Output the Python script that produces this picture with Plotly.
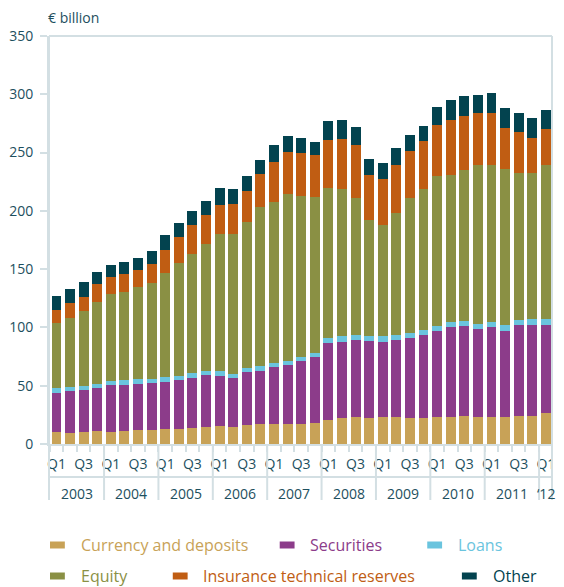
import plotly.graph_objects as go

# ---------------- data ----------------
years = [2003, 2004, 2005, 2006, 2007, 2008, 2009, 2010, 2011, 2012]
quarters = ["Q1", "Q2", "Q3", "Q4"]
quarter_labels = ["Q1", "", "Q3", ""]
year_labels = ["2003", "2004", "2005", "2006", "2007", "2008", "2009", "2010", "2011", "\u201812"]

currency = [10.3, 9.4, 10.3, 11.1, 10.3, 11.1, 12.0, 12.0, 12.9, 12.9, 13.7, 14.6,
            15.4, 14.6, 16.3, 17.1, 17.1, 17.1, 17.1, 18.0, 20.6, 22.3, 23.1, 22.3,
            23.1, 23.1, 22.3, 22.3, 23.1, 23.1, 24.0, 23.1, 23.1, 23.1, 24.0, 24.0, 26.6]
securities = [33.4, 36.0, 36.0, 36.9, 40.3, 39.5, 39.4, 40.3, 40.2, 42.0, 42.9, 44.5,
              42.9, 42.0, 45.4, 45.5, 48.9, 50.6, 54.0, 56.6, 66.0, 65.1, 66.0, 66.0,
              64.3, 66.0, 68.6, 71.1, 73.8, 77.2, 77.1, 75.5, 77.2, 73.8, 78.0, 78.0, 75.4]
loans = [4.3, 3.5, 3.4, 3.4, 3.4, 4.3, 4.3, 3.4, 4.3, 3.4, 4.3, 3.5,
         4.3, 3.4, 3.4, 4.3, 3.4, 3.4, 3.5, 3.4, 4.3, 5.2, 4.3, 4.3,
         5.2, 4.3, 4.2, 4.3, 4.2, 4.3, 4.3, 4.3, 4.3, 5.1, 4.3, 5.1, 5.1]
equity = [55.7, 59.1, 64.3, 70.3, 74.6, 75.4, 78.9, 82.3, 89.2, 96.8, 102.0, 108.8,
          117.4, 120.0, 125.2, 136.2, 138.0, 143.2, 138.0, 133.7, 128.5, 126.0, 117.5, 99.4,
          95.1, 104.6, 115.8, 120.9, 128.6, 126.0, 129.5, 136.2, 134.5, 133.7, 126.0, 125.2, 132.0]
insurance = [11.2, 12.9, 12.0, 15.4, 14.5, 15.4, 14.5, 16.3, 19.7, 22.3, 24.8, 24.9,
             24.9, 25.7, 26.6, 28.3, 34.3, 36.0, 36.8, 36.0, 41.2, 42.8, 45.4, 38.6,
             39.4, 41.1, 40.2, 41.1, 43.7, 47.1, 46.2, 44.6, 44.6, 35.2, 35.1, 30.0, 30.9]
other = [12.0, 12.0, 12.9, 10.3, 10.3, 10.3, 10.3, 11.1, 12.8, 12.0, 12.0, 12.0,
         14.5, 12.9, 12.8, 12.0, 14.6, 13.7, 12.9, 11.2, 16.3, 16.3, 15.4, 13.7,
         13.8, 14.6, 13.8, 12.9, 15.5, 17.2, 17.2, 15.4, 17.2, 17.1, 16.3, 17.1, 16.3]

series_names = ["Currency and deposits", "Securities", "Loans",
                "Equity", "Insurance technical reserves", "Other"]
series_values = [currency, securities, loans, equity, insurance, other]
colors = ["#c8a257", "#8c3c8a", "#6ac4de", "#8a9044", "#c05d13", "#03434f"]

# categories: one per quarter, Q1 2003 .. Q1 2012
n = len(currency)
categories = []
for y in years:
    for q in quarters:
        if len(categories) < n:
            categories.append(f"{y} {q}")
tick_text = [quarter_labels[i % 4] for i in range(n)]

# ---------------- style ----------------
TXT = "#1d4f5e"
LINE = "#d3dfe3"
FONT = "Open Sans"

# the page body adds an 8px offset; figure is sized to fit the window
FIG_W, FIG_H = 548, 579
M_L, M_R, M_T, M_B = 39, 1, 28, 143
PLOT_W = FIG_W - M_L - M_R
PLOT_H = FIG_H - M_T - M_B

fig = go.Figure()
for name, vals, col in zip(series_names, series_values, colors):
    fig.add_trace(go.Bar(x=categories, y=vals, name=name,
                         marker=dict(color=col, line=dict(width=0)),
                         showlegend=False))

BOTTOM = -56 / PLOT_H   # bottom of the frame (below the axis)
MID = -33 / PLOT_H      # line between quarter row and year row

shapes = []
shapes.append(dict(type="line", xref="paper", yref="paper", x0=0, x1=1, y0=1, y1=1,
                   line=dict(color=LINE, width=2)))
shapes.append(dict(type="line", xref="paper", yref="paper", x0=1, x1=1, y0=BOTTOM, y1=1,
                   line=dict(color=LINE, width=2)))
shapes.append(dict(type="line", xref="paper", yref="paper", x0=0, x1=0, y0=BOTTOM, y1=1,
                   line=dict(color=LINE, width=2)))
shapes.append(dict(type="line", xref="paper", yref="paper", x0=0, x1=1, y0=MID, y1=MID,
                   line=dict(color=LINE, width=2)))
for k in range(1, len(years)):
    xs = 4 * k - 0.5
    shapes.append(dict(type="line", xref="x", yref="paper", x0=xs, x1=xs, y0=BOTTOM, y1=0,
                       line=dict(color=LINE, width=2)))

annotations = []
for k, lab in enumerate(year_labels):
    first = 4 * k
    last = min(4 * k + 3, n - 1)
    xc = (first + last) / 2
    annotations.append(dict(x=xc, y=-49 / PLOT_H, xref="x", yref="paper", text=lab,
                            showarrow=False, font=dict(family=FONT, size=14, color=TXT),
                            xanchor="center", yanchor="middle"))
annotations.append(dict(x=-2 / PLOT_W, y=1 + 18 / PLOT_H, xref="paper", yref="paper",
                        text="\u20ac billion", showarrow=False,
                        font=dict(family=FONT, size=14, color=TXT),
                        xanchor="left", yanchor="middle", borderpad=0))

# custom legend (two rows); positions in window pixels
def px2x(px):
    return (px - 47) / PLOT_W
def px2y(py):
    return (444 - py) / PLOT_H

legend_layout = [(0, 48, 545), (1, 280, 545), (2, 429, 545),
                 (3, 48, 576), (4, 172, 576), (5, 464, 576)]
for idx, lx, ly in legend_layout:
    shapes.append(dict(type="rect", xref="paper", yref="paper",
                       x0=px2x(lx), x1=px2x(lx + 15), y0=px2y(ly + 3.5), y1=px2y(ly - 3.5),
                       fillcolor=colors[idx], line=dict(width=0)))
    annotations.append(dict(x=px2x(lx + 29), y=px2y(ly), xref="paper", yref="paper",
                            text=series_names[idx], showarrow=False,
                            font=dict(family=FONT, size=16, color=colors[idx]),
                            xanchor="left", yanchor="middle"))

fig.update_layout(
    width=FIG_W, height=FIG_H, autosize=False,
    margin=dict(l=M_L, r=M_R, t=M_T, b=M_B, pad=0),
    paper_bgcolor="white", plot_bgcolor="white",
    barmode="stack", bargap=0.27,
    font=dict(family=FONT, size=14, color=TXT),
    shapes=shapes, annotations=annotations,
    xaxis=dict(type="category", categoryorder="array", categoryarray=categories,
               range=[-0.55, n - 0.55],
               tickmode="array", tickvals=categories, ticktext=tick_text,
               tickangle=0,
               tickson="boundaries", ticks="outside", ticklen=6, tickwidth=1.5,
               tickcolor=LINE, ticklabelstandoff=6,
               showline=True, linecolor=LINE, linewidth=2,
               showgrid=False, zeroline=False,
               tickfont=dict(family=FONT, size=14, color=TXT)),
    yaxis=dict(range=[0, 350], tickmode="array",
               tickvals=[0, 50, 100, 150, 200, 250, 300, 350],
               ticks="outside", ticklen=7, tickwidth=2, tickcolor=LINE,
               showline=True, linecolor=LINE, linewidth=2,
               showgrid=False, zeroline=False, ticklabelstandoff=4,
               tickfont=dict(family=FONT, size=14, color=TXT)),
)

fig.write_html("out.html")
